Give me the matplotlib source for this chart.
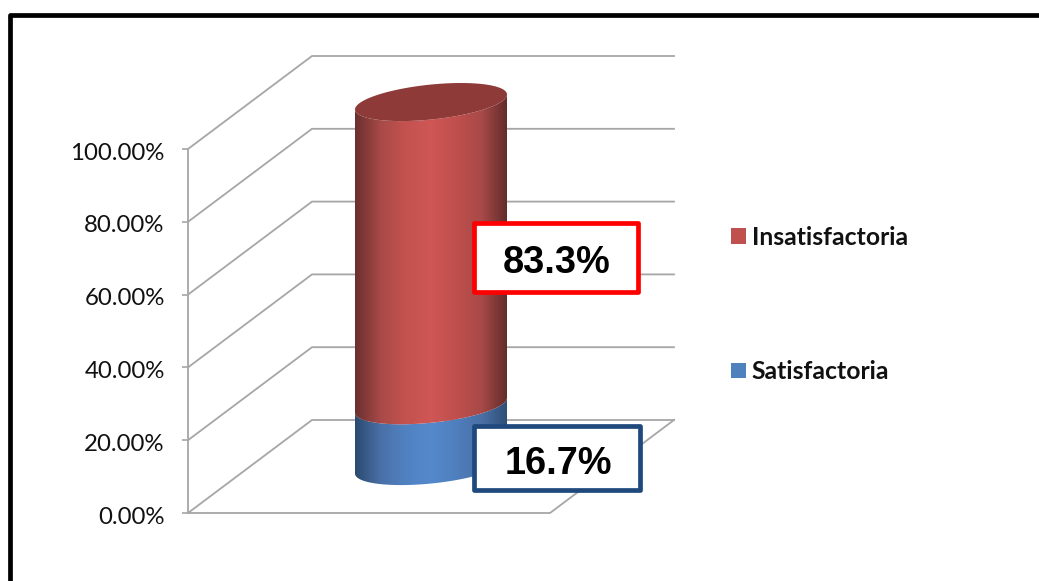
import numpy as np
import matplotlib
matplotlib.use("Agg")
import matplotlib.pyplot as plt
from matplotlib.patches import Polygon, FancyBboxPatch, Patch
from matplotlib.colors import LinearSegmentedColormap
from matplotlib.transforms import ScaledTranslation

# ---- data ----
categories = ["Satisfactoria", "Insatisfactoria"]
values = [16.7, 83.3]
axis_ticks = [0, 20, 40, 60, 80, 100]
red_shades = ["#6a302e", "#a84a48", "#c4524f", "#cf5755", "#c04f4d", "#a84a48", "#642d2b"]
blue_shades = ["#2b4a70", "#4a70a6", "#5082c2", "#5589cd", "#4f7fbd", "#4a70a6", "#2e5078"]
series_colors = ["#4f81bd", "#c0504d"]
cap_color = "#8d3a38"
box_colors = ["#1f497d", "#ff0000"]
label_y = [15.0, 70.1]          # value level at which each boxed label is centred

W, H = 1039, 581
PX_PER_PCT = 3.64
Y0_PX = 513
DEPTH_X = 124
DEPTH_V = 93 / PX_PER_PCT

fig = plt.figure(figsize=(W / 100, H / 100), dpi=100, facecolor="white")
left = 188
ax = fig.add_axes([left / W, 0, (W - left) / W, 1])
ax.set_xlim(left, W)
ylim = (-(H - Y0_PX) / PX_PER_PCT, Y0_PX / PX_PER_PCT)
ax.set_ylim(*ylim)
ax.patch.set_alpha(0)

for s in ("top", "right", "bottom"):
    ax.spines[s].set_visible(False)
GRID = "#a6a6a6"
ax.spines["left"].set_bounds(0, 100)
ax.spines["left"].set_color(GRID)
ax.spines["left"].set_linewidth(1.3)
ax.set_xticks([])
ax.set_yticks(axis_ticks)
ax.set_yticklabels([f"{t:.2f}%" for t in axis_ticks], family="Lato", fontsize=17.3, color="#111111")
ax.tick_params(axis="y", length=4.3, width=1.2, color=GRID, pad=12.5)
for lab in ax.get_yticklabels():
    lab.set_transform(lab.get_transform() + ScaledTranslation(0, -2 / 100, fig.dpi_scale_trans))

# walls and floor
floor_w = 362
for t in axis_ticks:
    ax.plot([left, left + DEPTH_X, left + DEPTH_X + floor_w], [t, t + DEPTH_V, t + DEPTH_V],
            color=GRID, lw=1.3, zorder=1, solid_joinstyle="miter")
ax.plot([left, left + floor_w, left + floor_w + DEPTH_X], [0, 0, DEPTH_V], color=GRID, lw=1.3, zorder=1)

# cylinder
cx, a = 431, 76
base = 12.9
tilt = 7.5 / PX_PER_PCT
b = 17.5 / PX_PER_PCT
t_front = np.linspace(np.pi, 2 * np.pi, 120)   # front arc left to right


def arc(level, t):
    return np.column_stack([cx + a * np.cos(t), level + tilt * np.cos(t) + b * np.sin(t)])


cum = np.concatenate([[0], np.cumsum(values)])
grad = np.linspace(0, 1, 300).reshape(1, -1)
for i, shades in enumerate([blue_shades, red_shades]):
    low, high = base + cum[i], base + cum[i + 1]
    poly = np.vstack([arc(low, t_front), arc(high, t_front[::-1])])
    clip = Polygon(poly, closed=True, transform=ax.transData, fc="none", ec="none")
    ax.add_patch(clip)
    cmap = LinearSegmentedColormap.from_list(f"s{i}", shades)
    im = ax.imshow(grad, cmap=cmap, extent=(cx - a, cx + a, low - 10, high + 10),
                   aspect="auto", zorder=3 + i, interpolation="bilinear")
    im.set_clip_path(clip)

top = base + cum[-1]
ax.add_patch(Polygon(arc(top, np.linspace(0, 2 * np.pi, 240)), closed=True, fc=cap_color, ec="none", zorder=6))
ax.set_xlim(left, W)
ax.set_ylim(*ylim)

# boxed labels
box_x = [474, 474]
box_w = [166, 164]
box_h_px = [64, 69]
for v, y, c, x0, w, hp in zip(values, label_y, box_colors, box_x, box_w, box_h_px):
    hv = hp / PX_PER_PCT
    ax.add_patch(FancyBboxPatch((x0, y - hv / 2), w, hv, boxstyle="square,pad=0",
                                fc="white", ec=c, lw=3.4, zorder=8, joinstyle="round"))
    ax.text(x0 + w / 2 + 1, y - 1.5, f"{v:.1f}%", family="Liberation Sans", fontweight="bold",
            fontsize=27.3, ha="center", va="center", color="black", zorder=9)

# legend
handles = [Patch(fc=series_colors[1], label=categories[1]), Patch(fc=series_colors[0], label=categories[0])]
leg = ax.legend(handles=handles, loc="center left", bbox_to_anchor=(731 / W, (H - 304.5) / H),
                bbox_transform=fig.transFigure, frameon=False, borderpad=0, borderaxespad=0,
                handlelength=0.6, handleheight=0.6, handletextpad=0.24, labelspacing=4.5,
                prop={"family": "Lato", "weight": "bold", "size": 17.8})
for tx in leg.get_texts():
    tx.set_color("#111111")

# outer frame
ax.plot([10, 10, W + 5], [ylim[0] - 5, (Y0_PX - 15) / PX_PER_PCT, (Y0_PX - 15) / PX_PER_PCT],
        color="black", lw=3.4, clip_on=False, zorder=10, solid_joinstyle="round")

fig.savefig("out.png", dpi=100)
